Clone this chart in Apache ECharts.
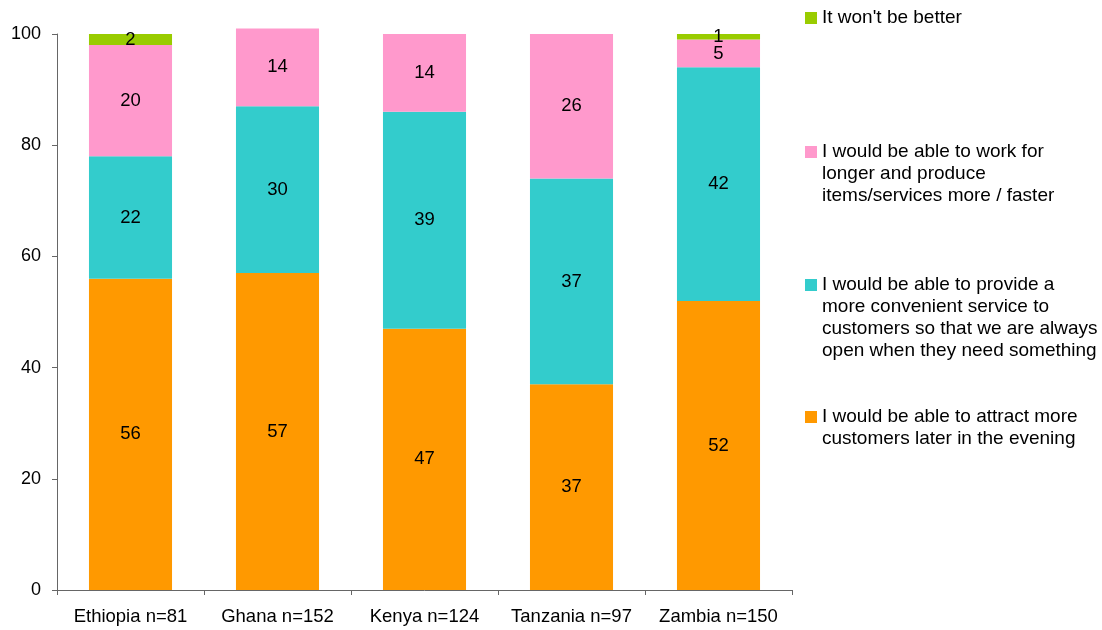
<!DOCTYPE html>
<html>
<head>
<meta charset="utf-8">
<script src="https://cdn.jsdelivr.net/npm/echarts@6/dist/echarts.min.js"></script>
<style>
html,body{margin:0;padding:0;background:#fff;}
#chart{width:1102px;height:630px;}
</style>
</head>
<body>
<div id="chart"></div>
<script>
const categories = ['Ethiopia n=81', 'Ghana n=152', 'Kenya n=124', 'Tanzania n=97', 'Zambia n=150'];
const attractMore = [56, 57, 47, 37, 52];
const convenientService = [22, 30, 39, 37, 42];
const workLonger = [20, 14, 14, 26, 5];
const wontBeBetter = [2, null, null, null, 1];
const seriesNames = [
  'I would be able to attract more\ncustomers later in the evening',
  'I would be able to provide a\nmore convenient service to\ncustomers so that we are always\nopen when they need something',
  'I would be able to work for\nlonger and produce\nitems/services more / faster',
  "It won't be better"
];
const seriesColors = ['#FF9900', '#33CCCC', '#FF99CC', '#99CC00'];
const seriesData = [attractMore, convenientService, workLonger, wontBeBetter];

const FONT = 'Liberation Sans, Arial, sans-serif';
const chart = echarts.init(document.getElementById('chart'));

const series = seriesData.map((d, i) => ({
  name: seriesNames[i],
  type: 'bar',
  stack: 'total',
  data: d,
  barWidth: '56.5%',
  clip: false,
  itemStyle: { color: seriesColors[i] },
  label: {
    show: true,
    position: 'inside',
    color: '#000',
    fontSize: 18.5,
    fontFamily: FONT,
    formatter: p => (p.value == null ? '' : String(p.value))
  }
}));

// legend items: first-line centre y positions
const legendCenters = [417, 285, 152, 18];
const LH = 22;
const legends = seriesNames.map((name, i) => {
  const n = name.split('\n').length;
  const total = 2 * n - 1;
  return {
    data: [name],
    orient: 'vertical',
    left: 805,
    top: legendCenters[i] - total * LH / 2,
    padding: 0,
    itemWidth: 12,
    itemHeight: 12,
    icon: 'rect',
    selectedMode: false,
    formatter: nm => '\n'.repeat(n - 1) + nm,
    textStyle: { fontSize: 19, fontFamily: FONT, color: '#000', lineHeight: LH }
  };
});

chart.setOption({
  animation: false,
  backgroundColor: '#fff',
  grid: { left: 57, right: 310, top: 34, bottom: 40, containLabel: false },
  legend: legends,
  xAxis: {
    type: 'category',
    data: categories,
    axisLine: { lineStyle: { color: '#666', width: 1 } },
    axisTick: { show: true, length: 5, lineStyle: { color: '#666' } },
    axisLabel: { color: '#000', fontSize: 18.5, fontFamily: FONT, margin: 17, interval: 0 }
  },
  yAxis: {
    type: 'value',
    min: 0,
    max: 100,
    interval: 20,
    splitLine: { show: false },
    axisLine: { show: true, lineStyle: { color: '#666', width: 1 } },
    axisTick: { show: true, length: 5, lineStyle: { color: '#666' } },
    axisLabel: { color: '#000', fontSize: 18, fontFamily: FONT, margin: 16 }
  },
  series: series
});
</script>
</body>
</html>
